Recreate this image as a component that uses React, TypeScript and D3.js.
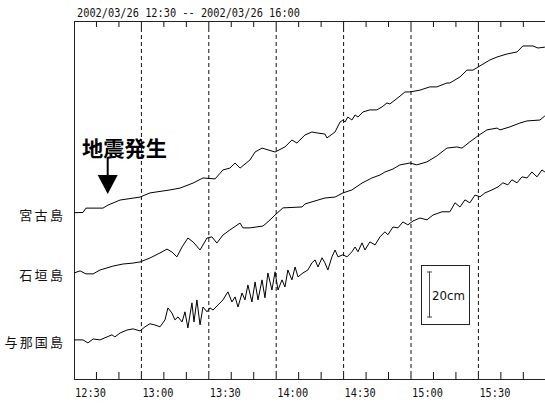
import React from "react";
import * as d3 from "d3";

// ---------- data ----------
const TITLE = "2002/03/26 12:30 -- 2002/03/26 16:00";
const STATIONS = ["宮古島", "石垣島", "与那国島"];
// display offset of each station trace (cm on the common vertical scale)
const STATION_OFFSET_CM = [72.3, 46.1, 17.0];
const TICK_LABELS = ["12:30", "13:00", "13:30", "14:00", "14:30", "15:00", "15:30"];
const TOTAL_MINUTES = 210; // 12:30 -> 16:00
const EQ_MINUTE = 15; // 12:45
const EQ_LABEL = "地震発生";
const SCALE_CM = 20;
const SCALE_LABEL = "20cm";

// [minutes since 12:30, level change in cm]
const miyako: [number, number][] = [
  [0, 0], [4.0, 0.1], [5.3, 2.0], [12.9, 2.0], [15.1, 3.3], [20.5, 5.5], [29.4, 6.8],
  [33.8, 8.6], [42.7, 9.9], [47.2, 10.7], [53.0, 12.9], [57.4, 15.1], [62.8, 14.7],
  [66.3, 18.6], [69.4, 19.4], [71.7, 21.6], [73.9, 19.4], [78.3, 22.9], [80.6, 26.4],
  [83.7, 28.1], [89.5, 26.4], [93.9, 28.6], [97.0, 31.6], [99.2, 30.3], [102.8, 33.8],
  [105.9, 35.1], [108.1, 34.7], [111.7, 34.2], [112.6, 32.5], [116.2, 35.1], [118.4, 39.4],
  [119.7, 40.3], [120.6, 39.4], [121.9, 41.6], [123.7, 40.3], [125.1, 42.5], [126.4, 41.6],
  [128.6, 43.8], [131.7, 44.7], [134.8, 44.7], [137.1, 46.0], [139.3, 47.7], [140.6, 47.3],
  [142.9, 49.0], [145.1, 50.7], [147.3, 52.5], [149.5, 52.5], [154.0, 53.3], [158.4, 54.7],
  [161.5, 54.7], [166.0, 56.4], [167.3, 56.4], [171.8, 59.0], [174.9, 62.0], [177.6, 62.0],
  [179.8, 63.3], [185.1, 66.4], [188.3, 67.7], [192.7, 69.0], [197.2, 69.9], [199.8, 72.5],
  [204.3, 72.5], [206.5, 71.6], [209.6, 72.0],
];

const ishigaki: [number, number][] = [
  [0, 0], [2.7, 0.9], [5.3, -0.4], [8.5, -0.4], [11.6, 1.3], [14.7, 2.2], [17.4, 3.0],
  [21.8, 3.9], [26.3, 4.3], [29.4, 4.8], [33.8, 6.5], [38.3, 8.7], [41.4, 10.4], [43.6, 9.1],
  [45.8, 7.0], [48.1, 11.3], [50.7, 15.2], [53.0, 13.5], [56.1, 10.0], [59.2, 15.2],
  [61.4, 15.7], [63.6, 13.0], [66.3, 16.5], [69.4, 18.7], [73.9, 21.7], [75.2, 19.6],
  [78.3, 19.6], [84.1, 20.4], [86.3, 22.2], [89.5, 25.2], [93.0, 28.3], [101.5, 28.7],
  [102.8, 30.0], [108.6, 31.7], [111.7, 32.6], [116.2, 33.0], [119.7, 34.8], [123.7, 36.1],
  [128.2, 39.1], [132.6, 41.3], [136.2, 42.6], [138.4, 43.9], [142.0, 45.2], [145.1, 47.0],
  [149.5, 47.8], [152.6, 47.0], [157.1, 48.3], [161.5, 50.9], [166.0, 54.3], [170.4, 54.8],
  [172.7, 54.3], [176.2, 57.0], [179.8, 59.6], [183.8, 62.2], [188.3, 63.0], [189.6, 62.2],
  [194.0, 63.5], [198.5, 65.2], [201.6, 66.1], [207.4, 66.5], [209.6, 68.3],
];

const yonaguni: [number, number][] = [
  [0, 0], [4.0, 0], [6.2, -1.3], [8.5, 0.4], [11.6, 0], [14.7, 1.3], [16.9, 2.2], [18.2, 1.3],
  [20.5, 3.0], [23.6, 4.3], [26.3, 4.8], [29.4, 3.9], [31.6, 5.7], [33.8, 7.0], [36.0, 6.5],
  [38.3, 5.7], [40.5, 8.7], [41.8, 13.9], [43.6, 11.7], [44.9, 8.7], [46.3, 10.0], [48.1, 7.8],
  [49.4, 12.2], [50.7, 5.2], [52.5, 16.1], [53.4, 7.8], [54.7, 17.4], [56.1, 6.5], [57.4, 14.3],
  [59.2, 12.2], [60.5, 13.9], [61.9, 13.0], [64.1, 15.2], [66.3, 17.4], [68.5, 20.9],
  [70.3, 16.5], [71.7, 18.7], [73.0, 14.3], [74.8, 20.4], [76.1, 17.4], [77.4, 23.9],
  [79.2, 16.5], [80.6, 25.2], [81.9, 17.4], [83.7, 26.1], [85.0, 18.3], [86.3, 29.1],
  [88.1, 21.7], [89.5, 29.6], [90.8, 21.7], [92.6, 26.1], [93.9, 23.0], [95.2, 30.4],
  [97.0, 26.1], [98.4, 31.7], [99.7, 27.4], [101.9, 29.1], [104.1, 30.4], [105.9, 33.5],
  [107.3, 34.8], [108.6, 31.7], [110.4, 35.7], [111.7, 33.5], [113.0, 30.4], [114.8, 36.1],
  [116.2, 39.1], [117.5, 36.1], [119.7, 37.0], [121.5, 36.1], [123.7, 38.3], [125.1, 40.4],
  [126.4, 38.3], [128.2, 42.2], [129.5, 39.1], [131.7, 42.6], [134.0, 41.3], [136.2, 44.8],
  [138.4, 47.0], [139.7, 45.7], [142.0, 49.1], [144.2, 48.7], [146.4, 51.3], [148.6, 50.0],
  [150.9, 51.7], [154.0, 53.0], [157.1, 52.2], [159.8, 54.3], [163.8, 55.7], [167.3, 55.7],
  [169.6, 59.6], [171.8, 57.8], [174.0, 60.9], [176.2, 59.6], [178.5, 63.0], [180.7, 62.2],
  [182.9, 63.9], [186.0, 65.2], [188.7, 66.5], [190.9, 68.3], [193.1, 67.4], [194.9, 69.6],
  [197.2, 68.3], [199.4, 70.9], [201.6, 70.4], [203.8, 73.0], [206.1, 70.9], [208.3, 73.9],
  [209.6, 73.0],
];

const SERIES = [miyako, ishigaki, yonaguni];

// ---------- layout ----------
const W = 545;
const H = 405;
const LEFT = 74;
const TOP = 21;
const BOTTOM = 379;
const RIGHT = 545.8;
const PX_PER_CM = 2.3;

const MONO = "'DejaVu Sans Mono', monospace";
const JP = "'Noto Sans CJK JP', 'Noto Sans', sans-serif";

export default function App() {
  const x = d3.scaleLinear().domain([0, TOTAL_MINUTES]).range([LEFT, RIGHT]);
  const y = d3
    .scaleLinear()
    .domain([0, (BOTTOM - TOP) / PX_PER_CM])
    .range([BOTTOM, TOP]);

  const minorTicks = d3.range(10, TOTAL_MINUTES, 10).filter((m) => m % 30 !== 0);
  const majorTicks = d3.range(30, TOTAL_MINUTES, 30);

  const lines = SERIES.map((s, i) =>
    d3
      .line<[number, number]>()
      .x((d) => x(d[0]))
      .y((d) => y(d[1] + STATION_OFFSET_CM[i]))
      .curve(d3.curveLinear)(s) || ""
  );

  const eqX = x(EQ_MINUTE);
  const barLen = y(0) - y(SCALE_CM);
  const boxX = 421,
    boxY = 265,
    boxW = 48,
    boxH = 59;
  const barX = 429;
  const barTop = boxY + (boxH - barLen) / 2;

  return (
    <svg
      width={W}
      height={H}
      style={{ position: "absolute", left: 0, top: 0, background: "#fff", display: "block" }}
    >
      <rect x={0} y={0} width={W} height={H} fill="#fff" />
      {/* title */}
      <text x={77} y={17} fontFamily={MONO} fontSize={12} textLength={223} lengthAdjust="spacingAndGlyphs" fill="#111">
        {TITLE}
      </text>

      {/* dashed half-hour lines */}
      {majorTicks.map((m) => (
        <g key={"maj" + m}>
          <line x1={x(m)} x2={x(m)} y1={TOP} y2={TOP + 7} stroke="#111" strokeWidth={1} />
          <line x1={x(m)} x2={x(m)} y1={TOP + 7} y2={BOTTOM - 7} stroke="#111" strokeWidth={1} strokeDasharray="4,3" />
          <line x1={x(m)} x2={x(m)} y1={BOTTOM - 7} y2={BOTTOM} stroke="#111" strokeWidth={1} />
        </g>
      ))}
      {/* minor ticks */}
      {minorTicks.map((m) => (
        <g key={"min" + m}>
          <line x1={x(m)} x2={x(m)} y1={TOP} y2={TOP + 6} stroke="#111" strokeWidth={1} />
          <line x1={x(m)} x2={x(m)} y1={BOTTOM - 7} y2={BOTTOM} stroke="#111" strokeWidth={1} />
        </g>
      ))}

      {/* frame */}
      <line x1={LEFT + 0.5} x2={LEFT + 0.5} y1={TOP} y2={BOTTOM + 1} stroke="#222" strokeWidth={1} />
      <line x1={LEFT} x2={W} y1={TOP + 0.5} y2={TOP + 0.5} stroke="#222" strokeWidth={1} />
      <line x1={LEFT} x2={W} y1={BOTTOM + 0.5} y2={BOTTOM + 0.5} stroke="#222" strokeWidth={1} />

      {/* x labels */}
      {TICK_LABELS.map((t, i) => (
        <text
          key={t}
          x={x(i * 30) + 1}
          y={397}
          fontFamily={MONO}
          fontSize={12}
          textLength={31}
          lengthAdjust="spacingAndGlyphs"
          fill="#111"
        >
          {t}
        </text>
      ))}

      {/* traces */}
      {lines.map((d, i) => (
        <path key={i} d={d} fill="none" stroke="#000" strokeWidth={1} />
      ))}

      {/* station labels */}
      {STATIONS.map((s, i) => {
        const len = s.length * 14.6;
        return (
          <text
            key={s}
            x={63 - len}
            y={y(STATION_OFFSET_CM[i]) + 7.5}
            fontFamily={JP}
            fontSize={13}
            textLength={len}
            lengthAdjust="spacing"
            fill="#111"
          >
            {s}
          </text>
        );
      })}

      {/* earthquake annotation */}
      <text x={82} y={155.5} fontFamily={JP} fontSize={21} fontWeight="bold" fill="#000" textLength={85} lengthAdjust="spacingAndGlyphs">
        {EQ_LABEL}
      </text>
      <line x1={eqX} x2={eqX} y1={157} y2={176} stroke="#000" strokeWidth={2} />
      <path d={`M${eqX - 10},175 L${eqX + 10},175 L${eqX},194 Z`} fill="#000" />

      {/* scale box */}
      <rect x={boxX + 0.5} y={boxY + 0.5} width={boxW} height={boxH} fill="#fff" stroke="#222" strokeWidth={1} />
      <line x1={barX + 0.5} x2={barX + 0.5} y1={barTop} y2={barTop + barLen} stroke="#444" strokeWidth={1} />
      <line x1={barX - 2} x2={barX + 3} y1={barTop + 0.5} y2={barTop + 0.5} stroke="#444" strokeWidth={1} />
      <line x1={barX - 2} x2={barX + 3} y1={barTop + barLen - 0.5} y2={barTop + barLen - 0.5} stroke="#444" strokeWidth={1} />
      <text x={432} y={300} fontFamily="'DejaVu Sans', sans-serif" fontSize={12} textLength={33} lengthAdjust="spacingAndGlyphs" fill="#111">
        {SCALE_LABEL}
      </text>
    </svg>
  );
}
